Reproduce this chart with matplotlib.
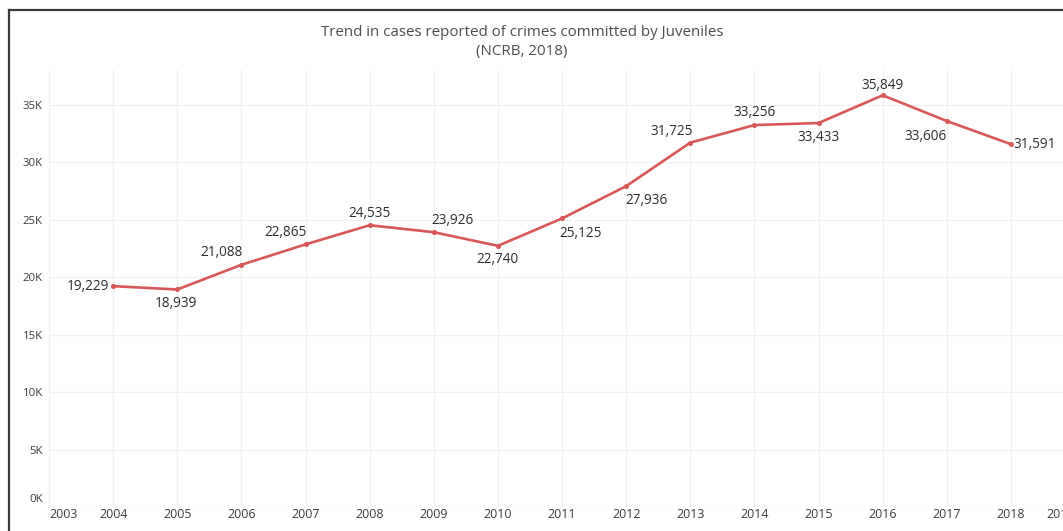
import matplotlib
matplotlib.use("Agg")
import matplotlib.pyplot as plt
from matplotlib.lines import Line2D
from matplotlib.transforms import ScaledTranslation

# Juvenile crime cases reported, NCRB 2018
years = [2004, 2005, 2006, 2007, 2008, 2009, 2010, 2011,
         2012, 2013, 2014, 2015, 2016, 2017, 2018]
cases = [19229, 18939, 21088, 22865, 24535, 23926, 22740, 25125,
         27936, 31725, 33256, 33433, 35849, 33606, 31591]

axis_years = list(range(2003, 2020))
y_ticks = [0, 5000, 10000, 15000, 20000, 25000, 30000, 35000]
y_tick_labels = ["0K", "5K", "10K", "15K", "20K", "25K", "30K", "35K"]

title_text = "Trend in cases reported of crimes committed by Juveniles\n(NCRB, 2018)"

# label placement per point: (dx px, dy px, horizontal alignment)
label_offsets = [(-4, 0, "right"), (-1, -14, "center"), (-20, 12, "center"),
                 (-20, 12, "center"), (0, 12, "center"), (19, 12, "center"),
                 (0, -14, "center"), (19, -15, "center"), (20, -14, "center"),
                 (-19, 11, "center"), (0, 13, "center"), (0, -14, "center"),
                 (0, 10, "center"), (-21, -15, "center"), (2, 0, "left")]

FONT = "Open Sans"
LINE_COLOR = "#d95757"
W, H = 1063, 531
DPI = 100

fig = plt.figure(figsize=(W / DPI, H / DPI), dpi=DPI)
fig.patch.set_facecolor("white")

left_px, right_px = 49, 49 + 16 * 64.13
top_px, bottom_px = 70, 507
ax = fig.add_axes([left_px / W, (H - bottom_px) / H,
                   (right_px - left_px) / W, (bottom_px - top_px) / H])
ax.set_facecolor("white")
ax.set_xlim(2003, 2019)
ax.set_ylim(0, 38050)

for s in ax.spines.values():
    s.set_visible(False)

ax.set_xticks(axis_years)
ax.set_xticklabels([str(y) for y in axis_years], fontfamily=FONT,
                   fontsize=8.9, color="#3c3c3c")
ax.set_yticks(y_ticks)
ax.set_yticklabels(y_tick_labels, fontfamily=FONT, fontsize=8.2, color="#3c3c3c")
ax.tick_params(axis="x", length=0, pad=0.5)
ax.tick_params(axis="y", length=0, pad=4.5)
xl = ax.get_xticklabels()
xl[0].set_horizontalalignment("left")
xl[-1].set_horizontalalignment("right")
yl = ax.get_yticklabels()
yl[0].set_transform(yl[0].get_transform() + ScaledTranslation(0, 9 / DPI, fig.dpi_scale_trans))

ax.grid(True, color="#f0f0f0", linewidth=0.9)
ax.set_axisbelow(True)

ax.plot(years, cases, color=LINE_COLOR, linewidth=1.9, marker="o",
        markersize=2.6, solid_joinstyle="round", zorder=3)

px_to_pt = 72 / DPI
for x, v, (dx, dy, ha) in zip(years, cases, label_offsets):
    ax.annotate(f"{v:,}", (x, v), xytext=(dx * px_to_pt, dy * px_to_pt),
                textcoords="offset points", ha=ha, va="center",
                fontfamily=FONT, fontsize=9.8, color="#2e2e2e", zorder=4)

fig.text(522 / W, 1 - 42 / H, title_text, ha="center", va="center",
         fontfamily=FONT, fontsize=10.9, color="#4e4e4e", linespacing=1.35)

# outer frame (top and left edges)
frame_kw = dict(color="#3a3a3a", linewidth=1.6, transform=fig.transFigure)
fig.add_artist(Line2D([8.5 / W, 1], [1 - 10 / H, 1 - 10 / H], **frame_kw))
fig.add_artist(Line2D([8.5 / W, 8.5 / W], [0, 1 - 10 / H], **frame_kw))

fig.savefig("out.png", dpi=DPI, facecolor="white")
